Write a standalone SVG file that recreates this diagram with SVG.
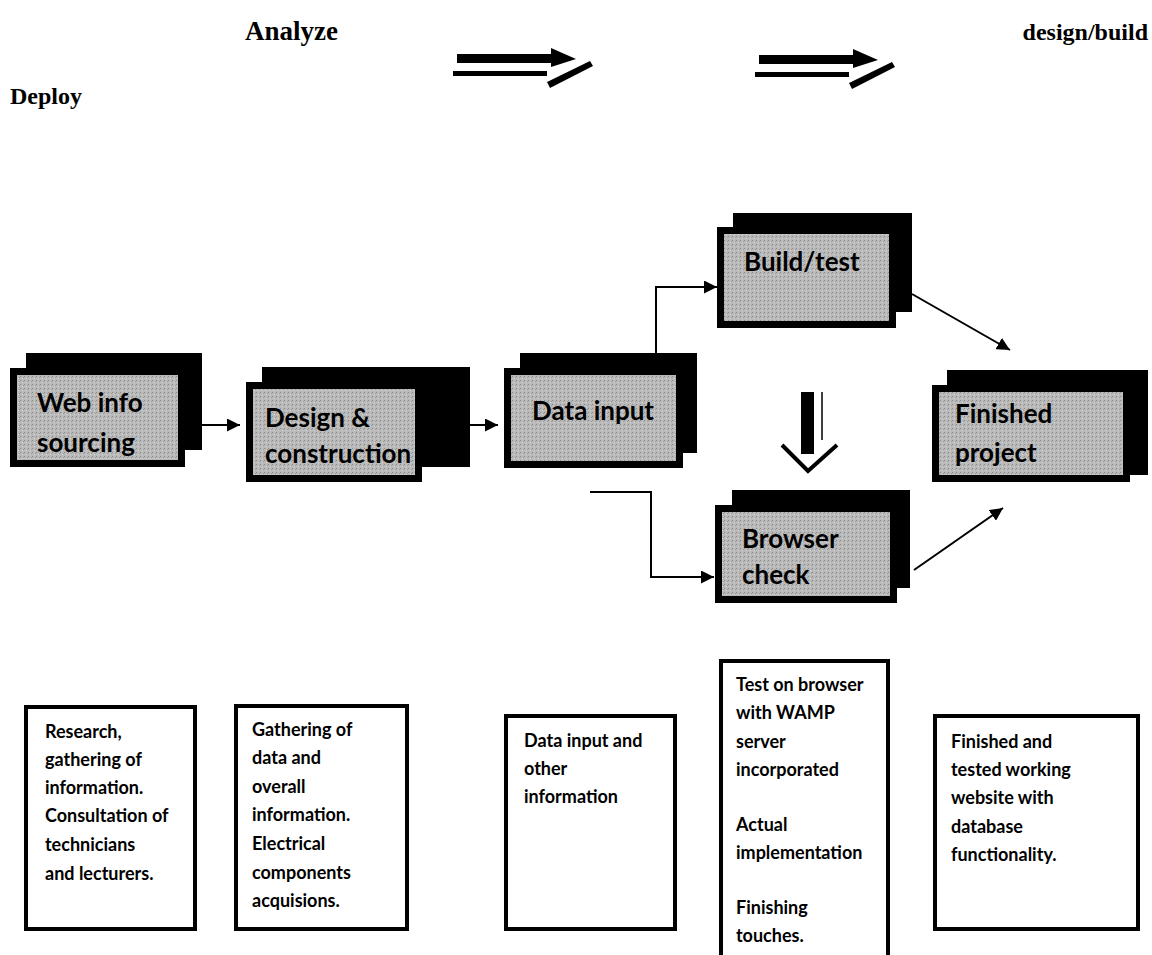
<svg xmlns="http://www.w3.org/2000/svg" width="1152" height="955" viewBox="0 0 1152 955">
<defs>
<marker id="ah" viewBox="0 0 10 10" refX="10" refY="5" markerWidth="13" markerHeight="13" markerUnits="userSpaceOnUse" orient="auto">
<path d="M0,0 L10,5 L0,10 Z" fill="#000"/>
</marker>
<pattern id="grain" width="4" height="4" patternUnits="userSpaceOnUse">
<rect width="4" height="4" fill="#bababa"/>
<rect x="0" y="0" width="1" height="1" fill="#8a8a8a"/>
<rect x="2" y="2" width="1" height="1" fill="#d6d6d6"/>
<rect x="3" y="1" width="1" height="1" fill="#9a9a9a"/>
</pattern>
</defs>
<style>
.back{fill:#000}
.front{fill:url(#grain);stroke:#000;stroke-width:7}
.lbl{font-family:Lato,"Open Sans",sans-serif;font-weight:bold;font-size:26px;fill:#000}
.head{font-family:"Liberation Serif",serif;font-weight:bold;font-size:24px;fill:#000}
.note{fill:#fff;stroke:#000;stroke-width:4}
.nt{font-family:Lato,"Open Sans",sans-serif;font-weight:bold;font-size:18px;fill:#000}
.conn{fill:none;stroke:#000;stroke-width:2}
</style>
<rect width="1152" height="955" fill="#fff"/>

<g id="titles">
<text class="head" x="245" y="40" style="font-size:27px">Analyze</text>
<text class="head" x="1148" y="40" text-anchor="end">design/build</text>
<text class="head" x="10" y="104">Deploy</text>
</g>

<g id="top-arrow-1">
<rect x="457" y="54" width="96" height="9" fill="#000"/>
<polygon points="551,48 576,59 551,67" fill="#000"/>
<rect x="453" y="71" width="94" height="5" fill="#000"/>
<polygon points="547,82 590,61 593,66 550,88" fill="#000"/>
</g>
<g id="top-arrow-2">
<rect x="759" y="55" width="96" height="9" fill="#000"/>
<polygon points="853,49 878,60 853,68" fill="#000"/>
<rect x="755" y="72" width="94" height="5" fill="#000"/>
<polygon points="849,83 892,62 895,67 852,89" fill="#000"/>
</g>

<g id="node-web">
<rect class="back" x="26" y="353" width="176" height="97"/>
<rect class="front" x="13.5" y="371.5" width="168" height="92"/>
<text class="lbl" x="37" y="412">Web info</text>
<text class="lbl" x="37" y="452">sourcing</text>
</g>

<g id="node-design">
<rect class="back" x="262" y="367" width="208" height="100"/>
<rect class="front" x="249.5" y="385.5" width="169" height="93"/>
<text class="lbl" x="265" y="427">Design &amp;</text>
<text class="lbl" x="265" y="463">construction</text>
</g>

<g id="node-data">
<rect class="back" x="520" y="353" width="177" height="100"/>
<rect class="front" x="507.5" y="371.5" width="172" height="93"/>
<text class="lbl" x="532" y="420">Data input</text>
</g>

<g id="node-build">
<rect class="back" x="733" y="213" width="179" height="99"/>
<rect class="front" x="720.5" y="230.5" width="172" height="94"/>
<text class="lbl" x="744" y="271">Build/test</text>
</g>

<g id="node-browser">
<rect class="back" x="732" y="490" width="178" height="98"/>
<rect class="front" x="718.5" y="508.5" width="175" height="91"/>
<text class="lbl" x="742" y="548">Browser</text>
<text class="lbl" x="742" y="584">check</text>
</g>

<g id="node-finished">
<rect class="back" x="947" y="370" width="201" height="105"/>
<rect class="front" x="935.5" y="388.5" width="191" height="90"/>
<text class="lbl" x="955" y="423">Finished</text>
<text class="lbl" x="955" y="462">project</text>
</g>

<g id="connectors">
<line class="conn" x1="185" y1="425" x2="240" y2="425" marker-end="url(#ah)"/>
<line class="conn" x1="470" y1="425" x2="498" y2="425" marker-end="url(#ah)"/>
<polyline class="conn" points="656,353 656,287 717,287" marker-end="url(#ah)"/>
<polyline class="conn" points="590,492 651,492 651,577 714,577" marker-end="url(#ah)"/>
<line class="conn" x1="912" y1="294" x2="1010" y2="350" marker-end="url(#ah)"/>
<line class="conn" x1="914" y1="570" x2="1003" y2="508" marker-end="url(#ah)"/>
<g id="down-arrow">
<rect x="801" y="392" width="13" height="62" fill="#000"/>
<line x1="822" y1="392" x2="822" y2="440" stroke="#000" stroke-width="1.5"/>
<polyline points="782,445 808,471 837,445" fill="none" stroke="#000" stroke-width="4"/>
</g>
</g>

<g id="note-1">
<rect class="note" x="26" y="707" width="169" height="222"/>
<text class="nt" x="45" y="738">Research,</text>
<text class="nt" x="45" y="766">gathering of</text>
<text class="nt" x="45" y="794">information.</text>
<text class="nt" x="45" y="822">Consultation of</text>
<text class="nt" x="45" y="851">technicians</text>
<text class="nt" x="45" y="880">and lecturers.</text>
</g>

<g id="note-2">
<rect class="note" x="236" y="706" width="171" height="223"/>
<text class="nt" x="252" y="736">Gathering of</text>
<text class="nt" x="252" y="764">data and</text>
<text class="nt" x="252" y="793">overall</text>
<text class="nt" x="252" y="821">information.</text>
<text class="nt" x="252" y="850">Electrical</text>
<text class="nt" x="252" y="879">components</text>
<text class="nt" x="252" y="907">acquisions.</text>
</g>

<g id="note-3">
<rect class="note" x="506" y="716" width="169" height="213"/>
<text class="nt" x="524" y="747">Data input and</text>
<text class="nt" x="524" y="775">other</text>
<text class="nt" x="524" y="803">information</text>
</g>

<g id="note-4">
<rect class="note" x="721" y="661" width="167" height="300"/>
<text class="nt" x="736" y="691">Test on browser</text>
<text class="nt" x="736" y="719">with WAMP</text>
<text class="nt" x="736" y="748">server</text>
<text class="nt" x="736" y="776">incorporated</text>
<text class="nt" x="736" y="831">Actual</text>
<text class="nt" x="736" y="859">implementation</text>
<text class="nt" x="736" y="914">Finishing</text>
<text class="nt" x="736" y="942">touches.</text>
</g>

<g id="note-5">
<rect class="note" x="935" y="716" width="203" height="213"/>
<text class="nt" x="951" y="748">Finished and</text>
<text class="nt" x="951" y="776">tested working</text>
<text class="nt" x="951" y="804">website with</text>
<text class="nt" x="951" y="833">database</text>
<text class="nt" x="951" y="861">functionality.</text>
</g>
</svg>
